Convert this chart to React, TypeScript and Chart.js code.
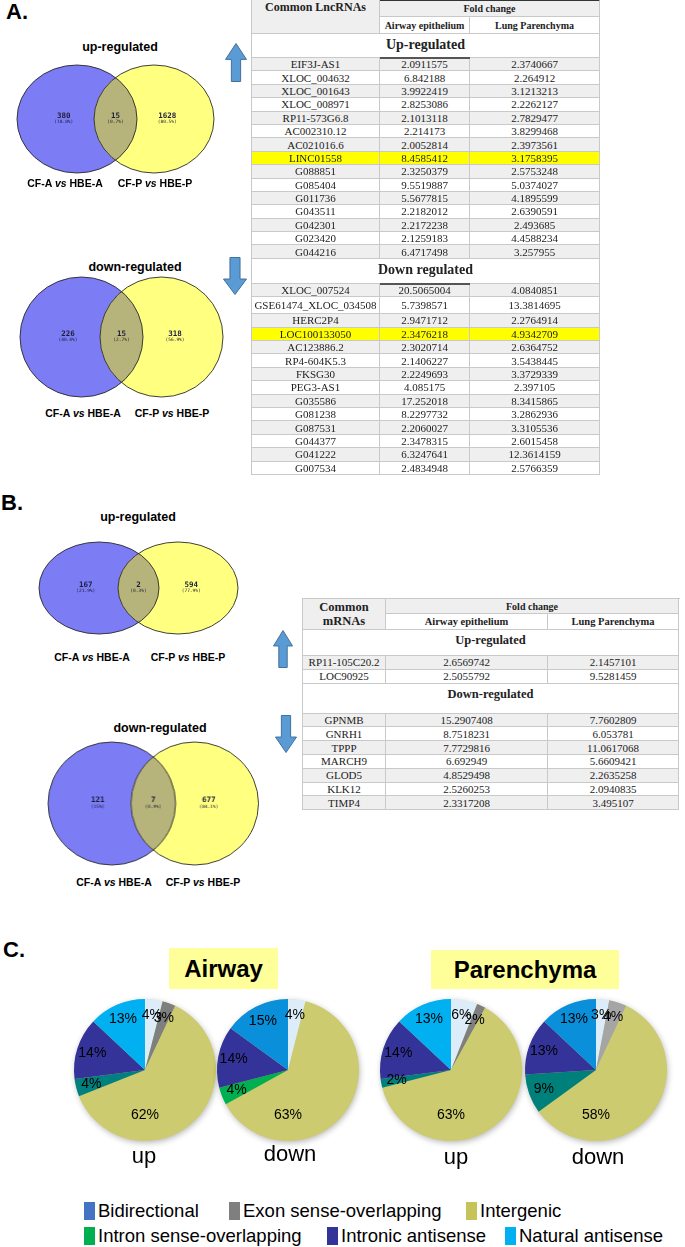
import React, { useEffect, useRef } from "react";
import { Chart, registerables } from "chart.js";

Chart.register(...registerables);

const SANS = "'Liberation Sans', Arial, Helvetica, sans-serif";
const SERIF = "'Liberation Serif', 'Times New Roman', Times, serif";
const MONO = "'DejaVu Sans Mono', monospace";

// ---------------- Venn data ----------------
const lncUpVennCounts = [380, 15, 1628];
const lncUpVennPct = ["(18.8%)", "(0.7%)", "(80.5%)"];
const lncDownVennCounts = [226, 15, 318];
const lncDownVennPct = ["(40.4%)", "(2.7%)", "(56.9%)"];
const mrnaUpVennCounts = [167, 2, 594];
const mrnaUpVennPct = ["(21.9%)", "(0.3%)", "(77.9%)"];
const mrnaDownVennCounts = [121, 7, 677];
const mrnaDownVennPct = ["(15%)", "(0.9%)", "(84.1%)"];

// ---------------- Table A: common lncRNAs ----------------
const lncUpNames = ["EIF3J-AS1", "XLOC_004632", "XLOC_001643", "XLOC_008971", "RP11-573G6.8", "AC002310.12", "AC021016.6", "LINC01558", "G088851", "G085404", "G011736", "G043511", "G042301", "G023420", "G044216"];
const lncUpAirway = ["2.0911575", "6.842188", "3.9922419", "2.8253086", "2.1013118", "2.214173", "2.0052814", "8.4585412", "2.3250379", "9.5519887", "5.5677815", "2.2182012", "2.2172238", "2.1259183", "6.4717498"];
const lncUpParenchyma = ["2.3740667", "2.264912", "3.1213213", "2.2262127", "2.7829477", "3.8299468", "2.3973561", "3.1758395", "2.5753248", "5.0374027", "4.1895599", "2.6390591", "2.493685", "4.4588234", "3.257955"];
const lncUpHighlight = "LINC01558";

const lncDownNames = ["XLOC_007524", "GSE61474_XLOC_034508", "HERC2P4", "LOC100133050", "AC123886.2", "RP4-604K5.3", "FKSG30", "PEG3-AS1", "G035586", "G081238", "G087531", "G044377", "G041222", "G007534"];
const lncDownAirway = ["20.5065004", "5.7398571", "2.9471712", "2.3476218", "2.3020714", "2.1406227", "2.2249693", "4.085175", "17.252018", "8.2297732", "2.2060027", "2.3478315", "6.3247641", "2.4834948"];
const lncDownParenchyma = ["4.0840851", "13.3814695", "2.2764914", "4.9342709", "2.6364752", "3.5438445", "3.3729339", "2.397105", "8.3415865", "3.2862936", "3.3105536", "2.6015458", "12.3614159", "2.5766359"];
const lncDownHighlight = "LOC100133050";

// ---------------- Table B: common mRNAs ----------------
const mrnaUpNames = ["RP11-105C20.2", "LOC90925"];
const mrnaUpAirway = ["2.6569742", "2.5055792"];
const mrnaUpParenchyma = ["2.1457101", "9.5281459"];
const mrnaDownNames = ["GPNMB", "GNRH1", "TPPP", "MARCH9", "GLOD5", "KLK12", "TIMP4"];
const mrnaDownAirway = ["15.2907408", "8.7518231", "7.7729816", "6.692949", "4.8529498", "2.5260253", "2.3317208"];
const mrnaDownParenchyma = ["7.7602809", "6.053781", "11.0617068", "5.6609421", "2.2635258", "2.0940835", "3.495107"];

// ---------------- Pie data (percent, clockwise from 12 o'clock) ----------------
const pieCategories = ["Bidirectional", "Exon sense-overlapping", "Intergenic", "Intron sense-overlapping", "Intronic antisense", "Natural antisense"];
const airwayUp = [4, 3, 62, 4, 14, 13];
const airwayDown = [4, 0, 63, 4, 14, 15];
const parenchymaUp = [6, 2, 63, 2, 14, 13];
const parenchymaDown = [3, 4, 58, 9, 13, 13];
const airwayUpColors = ["#dcedf9", "#7f7f7f", "#cccb6f", "#00807f", "#343399", "#00b0f0"];
const airwayDownColors = ["#dcedf9", "#7f7f7f", "#cccb6f", "#00b050", "#343399", "#0a8fdb"];
const parenchymaUpColors = ["#dcedf9", "#7f7f7f", "#cccb6f", "#00807f", "#343399", "#00b0f0"];
const parenchymaDownColors = ["#dcedf9", "#a5a5a5", "#cccb6f", "#00807a", "#343399", "#0a8fdb"];
const legendColors = ["#4472c4", "#7f7f7f", "#c6c35a", "#00b050", "#333399", "#00b0f0"];

// ---------------- helpers ----------------
function Txt(props: any) {
  const { x, y, size, bold, italic, family, align = "center", color = "#000", children, style } = props;
  const tx = align === "center" ? "-50%" : align === "right" ? "-100%" : "0";
  return (
    <div
      style={{
        position: "absolute",
        left: x,
        top: y,
        transform: `translate(${tx}, -50%)`,
        fontSize: size,
        fontWeight: bold ? 700 : 400,
        fontStyle: italic ? "italic" : "normal",
        fontFamily: family || SANS,
        lineHeight: 1,
        whiteSpace: "nowrap",
        color,
        ...style,
      }}
    >
      {children}
    </div>
  );
}

function Arrow({ x, y, w, h, dir }: any) {
  const head = h * 0.42;
  const s0 = w * 0.29;
  const s1 = w * 0.71;
  const pts =
    dir === "up"
      ? `${w / 2},0.5 ${w - 0.5},${head} ${s1},${head} ${s1},${h - 0.5} ${s0},${h - 0.5} ${s0},${head} 0.5,${head}`
      : `${s0},0.5 ${s1},0.5 ${s1},${h - head} ${w - 0.5},${h - head} ${w / 2},${h - 0.5} 0.5,${h - head} ${s0},${h - head}`;
  return (
    <svg style={{ position: "absolute", left: x, top: y }} width={w} height={h}>
      <polygon points={pts} fill="#5b9bd5" stroke="#41719c" strokeWidth={1} />
    </svg>
  );
}

// ---------------- Venn (Chart.js canvas + plugin) ----------------
function Venn({ cxL, cxR, cy, rx, ry, counts, pcts }: any) {
  const ref = useRef<HTMLCanvasElement>(null);
  const pad = 4;
  const left = cxL - rx - pad;
  const top = cy - ry - pad;
  const width = cxR + rx + pad - left;
  const height = 2 * ry + 2 * pad;
  useEffect(() => {
    const g = { l: cxL - left, r: cxR - left, c: cy - top, rx, ry };
    const plugin = {
      id: "venn",
      afterDraw(chart: any) {
        const ctx = chart.ctx;
        ctx.save();
        const ell = (x: number) => {
          ctx.beginPath();
          ctx.ellipse(x, g.c, g.rx, g.ry, 0, 0, Math.PI * 2);
        };
        ell(g.l);
        ctx.fillStyle = "#7c7cf4";
        ctx.fill();
        ell(g.r);
        ctx.fillStyle = "#ffff80";
        ctx.fill();
        ctx.save();
        ell(g.l);
        ctx.clip();
        ell(g.r);
        ctx.fillStyle = "#b7b47b";
        ctx.fill();
        ctx.restore();
        ctx.lineWidth = 0.9;
        ctx.strokeStyle = "#2a2a2a";
        ell(g.l);
        ctx.stroke();
        ell(g.r);
        ctx.stroke();
        const xs = [g.l - 0.22 * g.rx, (g.r - g.rx + g.l + g.rx) / 2, g.r + 0.22 * g.rx];
        ctx.textAlign = "center";
        ctx.textBaseline = "middle";
        ctx.fillStyle = "#1d1d3a";
        xs.forEach((x, i) => {
          ctx.font = `bold 7.5px ${MONO}`;
          ctx.fillText(String(counts[i]), x, g.c - 3);
          ctx.font = `4.5px ${MONO}`;
          ctx.fillText(pcts[i], x, g.c + 3);
        });
        ctx.restore();
      },
    };
    const chart = new Chart(ref.current as HTMLCanvasElement, {
      type: "scatter",
      data: { datasets: [] },
      options: {
        animation: false,
        responsive: true,
        maintainAspectRatio: false,
        events: [],
        layout: { padding: 0 },
        scales: { x: { display: false }, y: { display: false } },
        plugins: { legend: { display: false }, tooltip: { enabled: false } },
      },
      plugins: [plugin],
    } as any);
    return () => chart.destroy();
  }, []);
  return (
    <div style={{ position: "absolute", left, top, width, height }}>
      <canvas ref={ref} />
    </div>
  );
}

function VsLabel({ x, y, a, b }: any) {
  return (
    <Txt x={x} y={y} size={10.5} bold>
      {a} <i>vs</i> {b}
    </Txt>
  );
}

// ---------------- Pie ----------------
const pieShadowPlugin = {
  id: "pieShadow",
  beforeDatasetsDraw(chart: any) {
    const el = chart.getDatasetMeta(0).data[0];
    if (!el) return;
    const ctx = chart.ctx;
    ctx.save();
    ctx.shadowColor = "rgba(0,0,0,0.3)";
    ctx.shadowBlur = 6;
    ctx.shadowOffsetX = 1;
    ctx.shadowOffsetY = 2;
    ctx.beginPath();
    ctx.arc(el.x, el.y, el.outerRadius - 0.5, 0, Math.PI * 2);
    ctx.fillStyle = "#cccb6f";
    ctx.fill();
    ctx.restore();
  },
};

const pieLabelPlugin = {
  id: "pieLabels",
  afterDatasetsDraw(chart: any) {
    const ctx = chart.ctx;
    const vals = chart.data.datasets[0].data as number[];
    const total = vals.reduce((s, v) => s + v, 0);
    chart.getDatasetMeta(0).data.forEach((el: any, i: number) => {
      const v = vals[i];
      if (!v) return;
      let ang = (el.startAngle + el.endAngle) / 2;
      let f = 0.78;
      const bottom = Math.PI / 2;
      if (v / total > 0.4 && el.startAngle < bottom && el.endAngle > bottom) {
        ang = bottom;
        f = 0.64;
      }
      ctx.save();
      ctx.font = `14px ${SANS}`;
      ctx.fillStyle = "#000";
      ctx.textAlign = "center";
      ctx.textBaseline = "middle";
      ctx.fillText(`${v}%`, el.x + Math.cos(ang) * el.outerRadius * f, el.y + Math.sin(ang) * el.outerRadius * f);
      ctx.restore();
    });
  },
};

const PIE_R = 71;
const PIE_PAD = 9;
function Pie({ values, colors, cx, cy }: any) {
  const ref = useRef<HTMLCanvasElement>(null);
  useEffect(() => {
    const chart = new Chart(ref.current as HTMLCanvasElement, {
      type: "pie",
      data: {
        labels: pieCategories,
        datasets: [{ data: values, backgroundColor: colors, borderWidth: 0 }],
      },
      options: {
        animation: false,
        responsive: true,
        maintainAspectRatio: false,
        events: [],
        layout: { padding: PIE_PAD },
        plugins: { legend: { display: false }, tooltip: { enabled: false } },
      },
      plugins: [pieShadowPlugin, pieLabelPlugin],
    } as any);
    return () => chart.destroy();
  }, []);
  const S = 2 * (PIE_R + PIE_PAD);
  return (
    <div style={{ position: "absolute", left: cx - S / 2, top: cy - S / 2, width: S, height: S }}>
      <canvas ref={ref} />
    </div>
  );
}

// ---------------- Tables ----------------
function Cell({ w, h, bg, children, style }: any) {
  return (
    <div
      style={{
        width: w,
        height: h,
        boxSizing: "border-box",
        borderRight: "1px solid #c9c9c9",
        borderBottom: "1px solid #c9c9c9",
        background: bg || "#fff",
        display: "flex",
        alignItems: "center",
        justifyContent: "center",
        overflow: "hidden",
        whiteSpace: "nowrap",
        ...style,
      }}
    >
      {children}
    </div>
  );
}

function FoldTable(props: any) {
  const { left, top, colW, col1Header, h1, h2, col1Size, subSize, darkTop, sections, rowH, dataSize } = props;
  const total = colW[0] + colW[1] + colW[2];
  return (
    <div
      style={{
        position: "absolute",
        left,
        top,
        width: total + 1,
        fontFamily: SERIF,
        color: "#222",
        borderLeft: "1px solid #c9c9c9",
        borderTop: darkTop ? "none" : "1px solid #c9c9c9",
      }}
    >
      <div style={{ display: "flex" }}>
        <Cell w={colW[0]} h={h1 + h2} bg="#efefef" style={{ fontWeight: 700, fontSize: col1Size, lineHeight: 1.15, textAlign: "center", alignItems: darkTop ? "flex-start" : "center", paddingTop: darkTop ? 2 : 0, whiteSpace: "normal" }}>
          {col1Header}
        </Cell>
        <div>
          <Cell w={colW[1] + colW[2]} h={h1} bg="#efefef" style={{ fontWeight: 700, fontSize: 10, borderTop: darkTop ? "2px solid #333" : undefined }}>
            Fold change
          </Cell>
          <div style={{ display: "flex" }}>
            <Cell w={colW[1]} h={h2} style={{ fontWeight: 700, fontSize: subSize }}>Airway epithelium</Cell>
            <Cell w={colW[2]} h={h2} style={{ fontWeight: 700, fontSize: subSize }}>Lung Parenchyma</Cell>
          </div>
        </div>
      </div>
      {sections.map((sec: any, si: number) => (
        <div key={si}>
          <div style={{ position: "relative" }}>
            <Cell w={total} h={sec.titleH} style={{ fontWeight: 700, fontSize: sec.titleSize, alignItems: "flex-start", paddingTop: 3 }}>
              {sec.title}
            </Cell>
            {darkTop && (
              <div style={{ position: "absolute", left: colW[0], width: colW[1], bottom: -1, height: 2, background: "#555" }} />
            )}
          </div>
          {sec.names.map((n: string, i: number) => {
            const hl = n === sec.highlight;
            const bg = hl ? "#ffff00" : i % 2 === 0 ? "#efefef" : "#ffffff";
            const h = n.length > 14 ? rowH + 3.6 : rowH;
            return (
              <div key={n} style={{ display: "flex", fontSize: dataSize, height: h }}>
                <Cell w={colW[0]} h={h} bg={bg}>{n}</Cell>
                <Cell w={colW[1]} h={h} bg={bg}>{sec.a[i]}</Cell>
                <Cell w={colW[2]} h={h} bg={bg}>{sec.p[i]}</Cell>
              </div>
            );
          })}
        </div>
      ))}
    </div>
  );
}

// ---------------- App ----------------
export default function App() {
  const legendRow1 = [0, 1, 2];
  const legendRow2 = [3, 4, 5];
  const legendX1 = [84, 229, 466];
  const legendX2 = [84, 327, 505];
  return (
    <div style={{ position: "absolute", left: 0, top: 0, width: 685, height: 1247, background: "#fff", overflow: "hidden", fontFamily: SANS }}>
      {/* ---------- A ---------- */}
      <Txt x={6} y={12} size={22} bold align="left">A.</Txt>
      <Txt x={120} y={47} size={12.5} bold>up-regulated</Txt>
      <Venn cxL={77} cxR={154} cy={119} rx={60} ry={54} counts={lncUpVennCounts} pcts={lncUpVennPct} />
      <VsLabel x={65} y={183} a="CF-A" b="HBE-A" />
      <VsLabel x={155} y={183} a="CF-P" b="HBE-P" />
      <Arrow x={225} y={43} w={22} h={39} dir="up" />

      <Txt x={135} y={267} size={12.5} bold>down-regulated</Txt>
      <Venn cxL={81.5} cxR={161.5} cy={337} rx={61.5} ry={60} counts={lncDownVennCounts} pcts={lncDownVennPct} />
      <VsLabel x={83} y={413} a="CF-A" b="HBE-A" />
      <VsLabel x={172} y={413} a="CF-P" b="HBE-P" />
      <Arrow x={223} y={257} w={24} h={38} dir="down" />

      <FoldTable
        left={251}
        top={-1}
        colW={[128, 90, 130]}
        col1Header="Common LncRNAs"
        h1={18}
        h2={17}
        col1Size={12}
        subSize={10}
        darkTop
        rowH={13.4}
        dataSize={11}
        sections={[
          { title: "Up-regulated", titleH: 24, titleSize: 14, names: lncUpNames, a: lncUpAirway, p: lncUpParenchyma, highlight: lncUpHighlight },
          { title: "Down regulated", titleH: 25, titleSize: 14, names: lncDownNames, a: lncDownAirway, p: lncDownParenchyma, highlight: lncDownHighlight },
        ]}
      />

      {/* ---------- B ---------- */}
      <Txt x={1} y={503} size={22} bold align="left">B.</Txt>
      <Txt x={138} y={517} size={12.5} bold>up-regulated</Txt>
      <Venn cxL={99} cxR={178} cy={587.5} rx={60} ry={46} counts={mrnaUpVennCounts} pcts={mrnaUpVennPct} />
      <VsLabel x={92} y={657} a="CF-A" b="HBE-A" />
      <VsLabel x={188} y={657} a="CF-P" b="HBE-P" />
      <Arrow x={273} y={630} w={20} h={38} dir="up" />

      <Txt x={160} y={728} size={12.5} bold>down-regulated</Txt>
      <Venn cxL={111.5} cxR={194} cy={803.5} rx={63.5} ry={61.5} counts={mrnaDownVennCounts} pcts={mrnaDownVennPct} />
      <VsLabel x={114} y={882} a="CF-A" b="HBE-A" />
      <VsLabel x={203} y={882} a="CF-P" b="HBE-P" />
      <Arrow x={275} y={715} w={22} h={38} dir="down" />

      <FoldTable
        left={302}
        top={598}
        colW={[83, 162, 131]}
        col1Header={<span>Common<br />mRNAs</span>}
        h1={15}
        h2={16}
        col1Size={12.5}
        subSize={10.5}
        darkTop={false}
        rowH={13.8}
        dataSize={11}
        sections={[
          { title: "Up-regulated", titleH: 26, titleSize: 12.5, names: mrnaUpNames, a: mrnaUpAirway, p: mrnaUpParenchyma, highlight: "" },
          { title: "Down-regulated", titleH: 30, titleSize: 12.5, names: mrnaDownNames, a: mrnaDownAirway, p: mrnaDownParenchyma, highlight: "" },
        ]}
      />

      {/* ---------- C ---------- */}
      <Txt x={3} y={950} size={22} bold align="left">C.</Txt>
      <div style={{ position: "absolute", left: 169, top: 948, width: 109, height: 41, background: "#ffff99" }} />
      <Txt x={223.5} y={968.5} size={24} bold>Airway</Txt>
      <div style={{ position: "absolute", left: 431, top: 950, width: 188, height: 39, background: "#ffff99" }} />
      <Txt x={525} y={969.5} size={24} bold>Parenchyma</Txt>

      <Pie values={airwayUp} colors={airwayUpColors} cx={145} cy={1070} />
      <Pie values={airwayDown} colors={airwayDownColors} cx={288} cy={1070} />
      <Pie values={parenchymaUp} colors={parenchymaUpColors} cx={450.5} cy={1070} />
      <Pie values={parenchymaDown} colors={parenchymaDownColors} cx={595.5} cy={1070} />
      <Txt x={144} y={1156} size={22}>up</Txt>
      <Txt x={290} y={1154} size={22}>down</Txt>
      <Txt x={456} y={1157} size={22}>up</Txt>
      <Txt x={598} y={1157} size={22}>down</Txt>

      {legendRow1.map((ci, k) => (
        <div key={"l1" + ci}>
          <div style={{ position: "absolute", left: legendX1[k], top: 1202, width: 11, height: 18, background: legendColors[ci] }} />
          <Txt x={legendX1[k] + 14} y={1211} size={18.5} align="left">{pieCategories[ci]}</Txt>
        </div>
      ))}
      {legendRow2.map((ci, k) => (
        <div key={"l2" + ci}>
          <div style={{ position: "absolute", left: legendX2[k], top: 1227, width: 11, height: 18, background: legendColors[ci] }} />
          <Txt x={legendX2[k] + 14} y={1236} size={18.5} align="left">{pieCategories[ci]}</Txt>
        </div>
      ))}
    </div>
  );
}
